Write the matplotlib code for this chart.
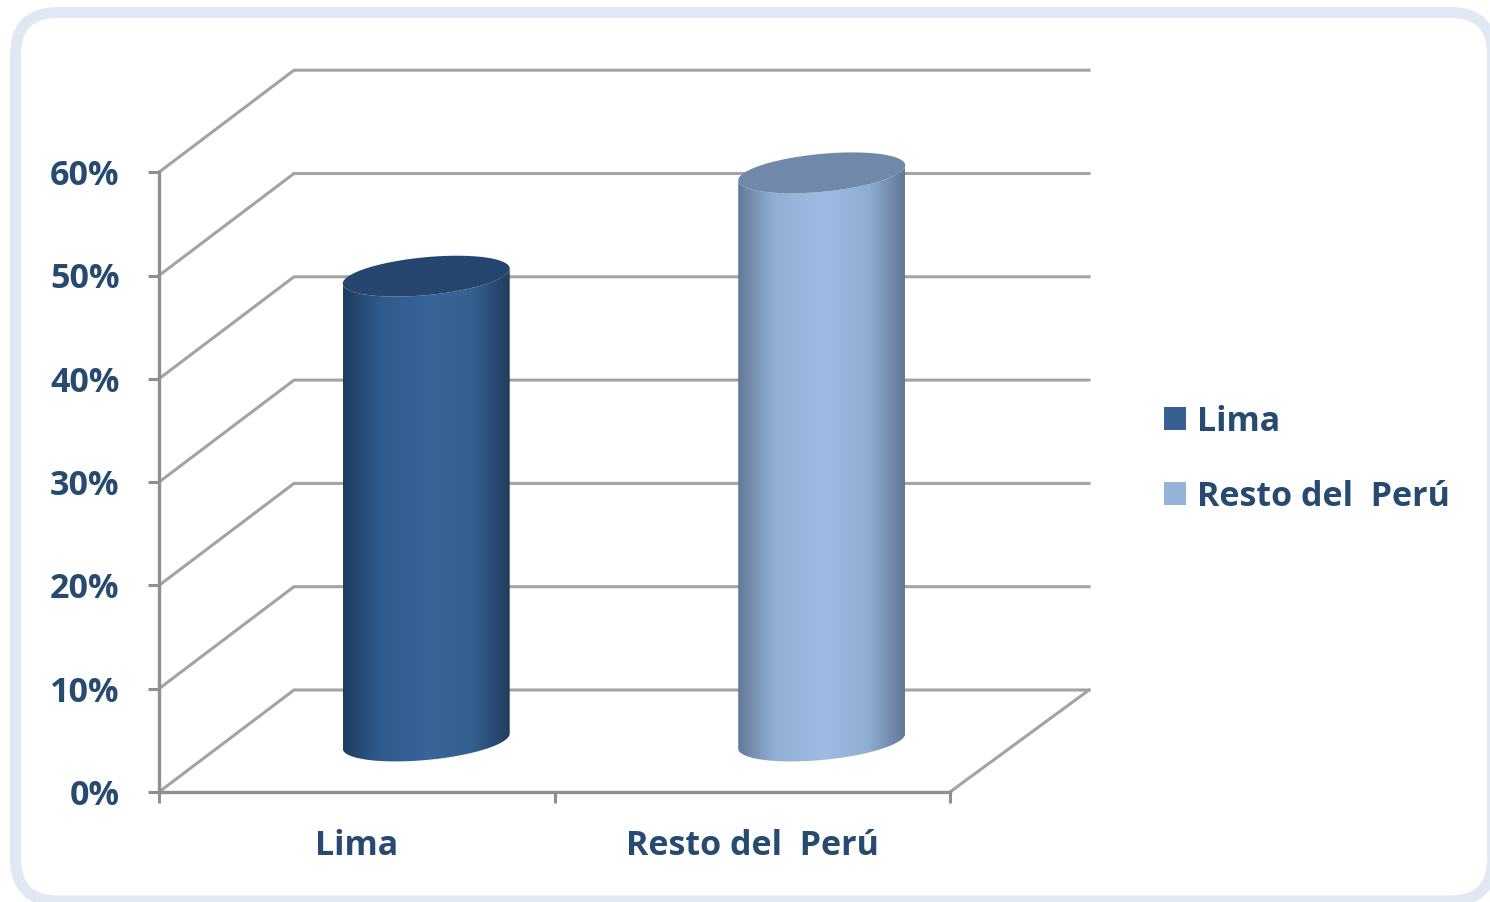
import numpy as np
import matplotlib
matplotlib.use("Agg")
import matplotlib.pyplot as plt
from matplotlib.colors import LinearSegmentedColormap
from matplotlib.patches import FancyBboxPatch, Polygon, Rectangle

categories = ["Lima", "Resto del  Perú"]
values = [45, 55]
y_ticks = [0, 10, 20, 30, 40, 50, 60]
y_labels = ["0%", "10%", "20%", "30%", "40%", "50%", "60%"]
legend_colors = ["#376092", "#95B3D7"]
top_colors = ["#264670", "#7089AA"]
side_stops = [
    ["#203C5F", "#2F5A8C", "#3A6598", "#34608F", "#223C5E"],
    ["#64799A", "#92B0D5", "#9EBCE4", "#90AED2", "#617898"],
]

W, H = 1490, 902
TEXT = "#264A70"
GRID = "#A3A3A3"
AXIS = "#8F8F8F"
FONT = "Open Sans"

fig = plt.figure(figsize=(W / 100, H / 100), dpi=100, facecolor="white")
fig.add_artist(FancyBboxPatch((0.155, 0.01), 14.77, 8.885,
                              boxstyle="round,pad=0,rounding_size=0.42",
                              transform=fig.dpi_scale_trans, zorder=-1,
                              facecolor="white", edgecolor="#DFE8F3", linewidth=7.9))

# plot scale: one category = 395.5 px, 10 % = 103.3 px
X_UNIT, Y_UNIT = 395.5, 10.33
DX, DY = 135 / X_UNIT, 102 / Y_UNIT
X_END = 930 / X_UNIT
Y_END = 60 + DY
ax = fig.add_axes([159 / W, (H - 792) / H, X_END * X_UNIT / W, Y_END * Y_UNIT / H])
ax.set_facecolor("none")
ax.set_xlim(0, X_END)
ax.set_ylim(0, Y_END)

for v in y_ticks:
    ax.plot([0, DX, X_END], [v, v + DY, v + DY], color=GRID, lw=2.2, zorder=1,
            solid_joinstyle="miter", clip_on=False)
ax.plot([len(categories), X_END], [0, DY], color=GRID, lw=2.2, zorder=1, clip_on=False)

for s in ("top", "right"):
    ax.spines[s].set_visible(False)
ax.spines["left"].set_bounds(0, 60)
ax.spines["bottom"].set_bounds(0, len(categories))
for s in ("left", "bottom"):
    ax.spines[s].set_color(AXIS)
    ax.spines[s].set_linewidth(2.4)

ax.set_yticks(y_ticks)
ax.set_yticklabels(y_labels)
ax.set_xticks(range(len(categories) + 1))
ax.set_xticklabels([])
ax.set_xticks([i + 0.5 for i in range(len(categories))], minor=True)
ax.set_xticklabels(categories, minor=True)
ax.tick_params(axis="x", which="major", length=8, width=2.2, color=AXIS)
ax.tick_params(axis="x", which="minor", length=0, pad=26.5)
ax.tick_params(axis="y", length=8, width=2.2, color=AXIS, pad=20.5)
for lab in ax.get_xticklabels(minor=True) + ax.get_yticklabels():
    lab.set_fontfamily(FONT)
    lab.set_fontweight("bold")
    lab.set_fontsize(24.5)
    lab.set_color(TEXT)

# cylinders
HALF_W = 83.5 / X_UNIT
MINOR = 19 / Y_UNIT
TILT = 0.09 * X_UNIT / Y_UNIT
CYL_SHIFT = 0.005
t = np.linspace(0, 2 * np.pi, 181)
for i, (cat, val) in enumerate(zip(categories, values)):
    cx = i + 0.5 + DX / 2 + CYL_SHIFT
    y0 = DY / 2
    y1 = val + DY / 2
    ex = cx + HALF_W * np.cos(t)
    skew = TILT * (ex - cx)
    ring = MINOR * np.sin(t)
    front = t[:91]  # parameter range for the lower half, after negating the sine
    fx = cx + HALF_W * np.cos(front)
    fs = TILT * (fx - cx) - MINOR * np.sin(front)
    body = np.vstack([
        np.column_stack([fx, y0 + fs]),
        np.column_stack([fx[::-1], y1 + fs[::-1]]),
    ])
    outline = Polygon(body, closed=True, transform=ax.transData, facecolor="none", edgecolor="none")
    ax.add_patch(outline)
    cmap = LinearSegmentedColormap.from_list(f"c{i}", list(zip([0, 0.22, 0.52, 0.78, 1], side_stops[i])))
    img = ax.imshow(np.linspace(0, 1, 256)[None, :], cmap=cmap, aspect="auto", interpolation="bilinear",
                    extent=(cx - HALF_W, cx + HALF_W, y0 - 4, y1 + 4), zorder=3)
    img.set_clip_path(outline)
    ax.add_patch(Polygon(np.column_stack([ex, y1 + skew + ring]), closed=True,
                         facecolor=top_colors[i], edgecolor="none", zorder=4))
ax.set_xlim(0, X_END)
ax.set_ylim(0, Y_END)

handles = [Rectangle((0, 0), 1, 1, facecolor=c, edgecolor="none") for c in legend_colors]
leg = fig.legend(handles, categories, loc="upper left", bbox_to_anchor=(1157 / W, (H - 398) / H),
                 frameon=False, handlelength=0.65, handleheight=0.65, handletextpad=0.32,
                 labelspacing=1.2, borderaxespad=0, borderpad=0.2,
                 prop={"family": FONT, "weight": "bold", "size": 24.5})
for txt in leg.get_texts():
    txt.set_color(TEXT)

fig.savefig("out.png", dpi=100)
